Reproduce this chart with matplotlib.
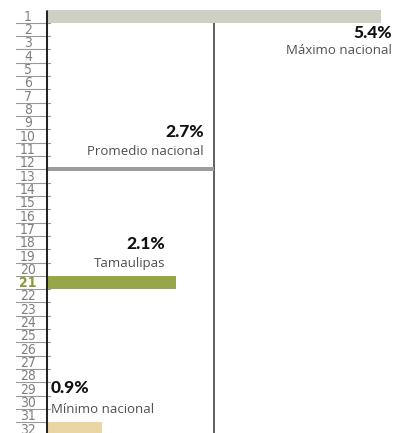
import matplotlib.pyplot as plt
import matplotlib.transforms as mtransforms

# Datos
filas = list(range(1, 33))
etiquetas = ['Máximo nacional', 'Promedio nacional', 'Tamaulipas', 'Mínimo nacional']
valores = [5.4, 2.7, 2.1, 0.9]
posiciones = [1, 12.5, 21, 32]
alturas = [1.0, 0.3, 1.0, 1.0]
colores = ['#cfd0c3', '#9c9c9c', '#98a64a', '#e9d6a4']
fila_destacada = 21

plt.rcParams['font.family'] = ['Open Sans', 'DejaVu Sans']

fig = plt.figure(figsize=(4.0, 4.33), dpi=100)
ax = fig.add_axes([46 / 400, 0, 1 - 46 / 400, 1 - 9.5 / 433])
ax.set_xlim(0, 5.7)
ax.set_ylim(32.3, 0.5)
ax.axis('off')

# Barras
ax.barh(posiciones, valores, height=alturas, color=colores, zorder=2)

# Linea del promedio nacional
ax.plot([valores[1], valores[1]], [1.5, 32.3], color='#444444', lw=1.2, zorder=1)

# Eje de filas
ax.plot([0, 0], [0.5, 32.3], color='#222222', lw=2.2, zorder=3, solid_capstyle='butt')
trans = mtransforms.blended_transform_factory(fig.transFigure, ax.transData)
for f in filas:
    destacada = f == fila_destacada
    ax.text(28 / 400, f + 0.05, str(f), transform=trans, ha='center', va='center',
            fontsize=10, family='DejaVu Sans', fontstretch='condensed',
            color='#8a9a35' if destacada else '#808080',
            fontweight='bold' if destacada else 'light')
    ax.plot([16 / 400, 50 / 400], [f + 0.5, f + 0.5], transform=trans,
            color='#999999', lw=0.8, clip_on=False, zorder=1)

# Textos
textos = [
    (5.4, 2.3, 3.6, 'right', 392),
    (2.7, 9.7, 11.2, 'right', 204),
    (2.1, 18.1, 19.6, 'right', 165),
    (0.9, 28.9, 30.5, 'left', 51),
]
for (v, y1, y2, ha, px), etiqueta in zip(textos, etiquetas):
    ax.text(px / 400, y1, f'{v}%', transform=trans, ha=ha, va='center',
            fontsize=12.5, family=['Lato', 'DejaVu Sans'], fontweight='black',
            color='#111111')
    ax.text(px / 400, y2, etiqueta, transform=trans, ha=ha, va='center',
            fontsize=9.5, color='#505050')

plt.savefig('out.png', dpi=100)
